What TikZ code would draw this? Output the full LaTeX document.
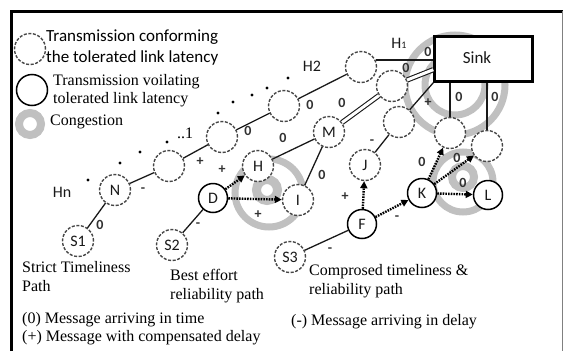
\documentclass[tikz,border=0pt]{standalone}
\usepackage{fontspec}
\setmainfont{Liberation Serif}
\newfontfamily\carl{Carlito}
\usetikzlibrary{arrows.meta}
\definecolor{ringgray}{RGB}{192,192,192}
\definecolor{dashgray}{RGB}{70,70,70}
\definecolor{linec}{RGB}{25,25,25}
\definecolor{labc}{RGB}{50,50,50}
\begin{document}
\begin{tikzpicture}[x=1pt,y=-1pt,
  dnode/.style={circle,draw=dashgray,dash pattern=on 3pt off 1.6pt,line width=1.4pt,fill=white,minimum size=31pt,inner sep=0pt,text=linec,font=\carl\fontsize{16}{16}\selectfont},
  snode/.style={circle,draw=black,line width=1.5pt,fill=white,minimum size=29pt,inner sep=0pt,text=linec,font=\carl\fontsize{16}{16}\selectfont},
  link/.style={line width=1.3pt,draw=linec},
  dbl/.style={line width=1.1pt,draw=linec,double=white,double distance=3pt},
  darr/.style={line width=2.4pt,draw=black,dash pattern=on 1.6pt off 1.1pt,-{Triangle[length=7pt,width=7pt]}},
  ringst/.style={draw=ringgray,line width=7pt},
  lab/.style={font=\carl\bfseries\fontsize{14}{14}\selectfont,text=labc,inner sep=0pt},
  sertext/.style={font=\fontsize{16}{19}\selectfont,align=left,anchor=west,inner sep=0pt,text=black},
  santext/.style={font=\carl\fontsize{17}{21}\selectfont,align=left,anchor=west,inner sep=0pt,text=black},
  plain/.style={font=\carl\fontsize{16}{16}\selectfont,inner sep=0pt,text=linec}
]
\useasboundingbox (0,0) rectangle (564,351);
% frame
\draw[line width=3pt,black] (11,351) -- (11,11) -- (563,11);
\draw[line width=0.8pt,gray] (562,11) -- (562,351);

% congestion rings
\draw[ringst] (455,85) circle[radius=50];
\draw[ringst] (455,85) circle[radius=30];
\draw[ringst] (269,193) circle[radius=34];
\draw[ringst,line width=9pt] (267,190) circle[radius=10.5];
\draw[ringst] (463,182) circle[radius=30];
\draw[ringst,line width=8pt] (463,177) circle[radius=11];

% legend
\node[dnode] (lgd) at (30,49) {};
\node[snode,minimum size=31pt] (lgs) at (32,90) {};
\draw[ringst,line width=8pt] (30,124) circle[radius=11];
\node[santext] (lg1) at (46,48) {Transmission conforming\\the tolerated link latency};
\node[sertext,font=\fontsize{16}{18}\selectfont] (lg2) at (53,91) {Transmission voilating\\tolerated link latency};
\node[sertext] (lg3) at (50,122) {Congestion};

% dots
\foreach \x/\y in {88/180,120/163,140/152,167/142,218/113,233/102,252/95,267/88,288/78}
  \fill[black] (\x,\y) circle[radius=1.6];

% nodes
\node[dnode] (S1) at (78,241) {S1};
\node[dnode] (N) at (115,190) {N};
\node[dnode] (c1) at (169,166) {};
\node[dnode] (c2) at (222,137) {};
\node[dnode] (c3) at (284,106) {};
\node[dnode] (h1c) at (361,67) {};
\node[dnode] (dc) at (392,86) {};
\node[dnode] (pc) at (399,122) {};
\node[dnode] (A) at (450,133) {};
\node[dnode] (B) at (487,146) {};
\node[dnode] (H) at (258,166) {H};
\node[snode] (D) at (213,198) {D};
\node[dnode] (I) at (298,200) {I};
\node[dnode] (M) at (329,132) {M};
\node[dnode] (S2) at (172,245) {S2};
\node[dnode] (S3) at (290,257) {S3};
\node[snode] (F) at (362,224) {F};
\node[dnode] (J) at (365,165) {J};
\node[snode] (K) at (422,193) {K};
\node[snode] (L) at (488,195) {L};
\node[draw=black,line width=2.4pt,fill=white,minimum width=98pt,minimum height=45pt,inner sep=0pt] (sink) at (483.5,59) {};
\node[plain,font=\carl\fontsize{17}{17}\selectfont] (sinkt) at (477,58) {Sink};

% connectors
\draw[link] (S1) -- (N);
\draw[link] (N) -- (c1);
\draw[link] (c1) -- (c2);
\draw[link] (c2) -- (c3);
\draw[link] (c3) -- (h1c);
\draw[link] (h1c.26) -- (h1c.26 -| sink.west);
\draw[link] (S2) -- (D);
\draw[link] (H) -- (M);
\draw[link] (M) -- (I);
\draw[dbl] (M) -- (dc);
\draw[dbl] (dc) -- (sink.192);
\draw[link] (S3) -- (F);
\draw[link] (J) -- (pc);
\draw[link] (pc) -- (sink.south west);
\draw[link] (A) -- (A |- sink.south);
\draw[link] (B) -- (B |- sink.south);
\draw[darr] (D) -- (H);
\draw[darr] (D) -- (I);
\draw[darr] (F) -- (J);
\draw[darr] (F) -- (K);
\draw[darr] (K) -- (A);
\draw[darr] (K) -- (B);
\draw[darr] (K) -- (L);

% hop labels
\node[plain] (hn) at (62,192) {Hn};
\node[plain] (h2) at (312,66) {H2};
\node[plain] (h1) at (399,43) {H{\fontsize{10}{10}\selectfont 1}};
\node[font=\fontsize{16}{16}\selectfont,inner sep=0pt] (one) at (185,133) {..1};

% delay labels
\foreach \n/\x/\y in {z1/100/225,z2/248/131,z3/310/105,z4/428/52,z5/406/68,z6/342/103,z7/283/138,z8/322/175,z9/459/97,z10/495/97,z11/422/162,z12/457/158,z13/463/183}
  \node[lab] (\n) at (\x,\y) {0};
\foreach \n/\x/\y in {p1/200/162,p2/222/170,p3/258/215,p4/345/197,p5/428/103}
  \node[lab] (\n) at (\x,\y) {+};
\foreach \n/\x/\y in {m1/143/190,m2/198/225,m3/330/250,m4/372/142,m5/397/218}
  \node[lab] (\n) at (\x,\y) {-};

% bottom texts
\node[sertext] (t1) at (22,277) {Strict Timeliness\\Path};
\node[sertext] (t2) at (170,286.5) {Best effort\\reliability path};
\node[sertext] (t3) at (309,281.5) {Comprosed timeliness \&\\reliability path};
\node[sertext,font=\fontsize{16}{18}\selectfont] (t4) at (22,329) {(0) Message arriving in time\\(+) Message with compensated delay};
\node[sertext] (t5) at (291,322) {(-) Message arriving in delay};
\end{tikzpicture}
\end{document}
